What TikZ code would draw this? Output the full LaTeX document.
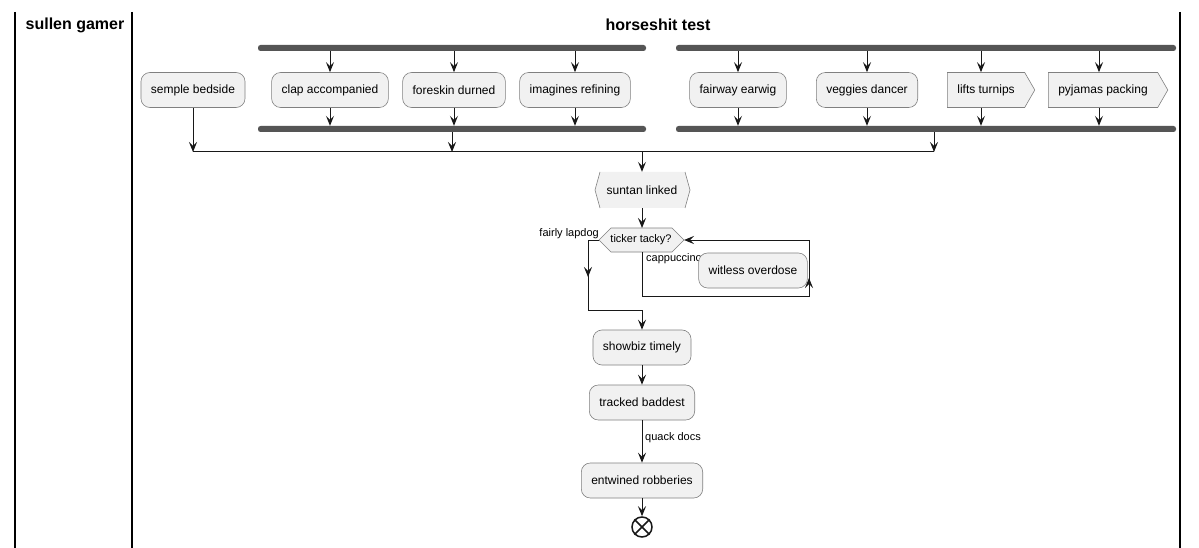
\documentclass[tikz,border=0pt]{standalone}
\usepackage{fontspec}
\setmainfont{Liberation Sans}
\usetikzlibrary{arrows.meta,shapes.symbols}
\definecolor{boxfill}{HTML}{F1F1F1}
\definecolor{boxline}{HTML}{808080}
\definecolor{barcol}{HTML}{555555}
\definecolor{linecol}{HTML}{181818}
\tikzset{
  act/.style={draw=boxline, fill=boxfill, rounded corners=9pt, minimum height=35pt, inner xsep=10pt, font=\fontsize{12}{14}\selectfont, line width=0.6pt},
  sig/.style={draw=boxline, fill=boxfill, signal, signal to=east, signal pointer angle=120, minimum height=35pt, inner xsep=10pt, font=\fontsize{12}{14}\selectfont, line width=0.6pt},
  bar/.style={fill=barcol, rounded corners=2.5pt, minimum height=6pt, inner sep=0pt},
  flow/.style={draw=linecol, line width=1pt},
  arr/.style={flow, -{Stealth[length=10pt,width=8pt,inset=4pt]}},
  lbl/.style={font=\fontsize{11}{13}\selectfont, inner sep=0pt},
  lane/.style={draw=black, line width=1.5pt},
  lanetitle/.style={font=\fontsize{16}{19}\selectfont\bfseries, inner sep=0pt}
}
\begin{document}
\begin{tikzpicture}[x=1pt,y=-1pt]
\useasboundingbox[fill=white] (0,0) rectangle (1199,548);
% lanes
\coordinate (l1t) at (15,12);   \coordinate (l1b) at (15,548);
\coordinate (l2t) at (132,12);  \coordinate (l2b) at (132,548);
\coordinate (l3t) at (1180,12); \coordinate (l3b) at (1180,548);
\draw[lane] (l1t) -- (l1b);
\draw[lane] (l2t) -- (l2b);
\draw[lane] (l3t) -- (l3b);
\node[lanetitle] (t1) at (75,25) {sullen gamer};
\node[lanetitle] (t2) at (658,25) {horseshit test};

% fork bars
\node[bar, minimum width=388pt] (f1t) at (452,48) {};
\node[bar, minimum width=388pt] (f1b) at (452,129) {};
\node[bar, minimum width=500pt] (f2t) at (926,48) {};
\node[bar, minimum width=500pt] (f2b) at (926,129) {};

% activities
\node[act] (semple) at (193,90) {semple bedside};
\node[act] (clap) at (330,90) {clap accompanied};
\node[act] (fore) at (454,90) {foreskin durned};
\node[act] (imag) at (575,90) {imagines refining};
\node[act] (fair) at (738,90) {fairway earwig};
\node[act] (vegg) at (867,90) {veggies dancer};
\node[sig] (lift) at (986,90) {lifts turnips};
\node[sig] (pyja) at (1103,90) {pyjamas packing};

\foreach \n in {clap,fore,imag} {
  \draw[arr] (\n.north |- f1t.south) -- (\n.north);
  \draw[arr] (\n.south) -- (\n.south |- f1b.north);
}
\draw[arr] (fair.north |- f2t.south) -- (fair.north);
\draw[arr] (fair.south) -- (fair.south |- f2b.north);
\draw[arr] (vegg.north |- f2t.south) -- (vegg.north);
\draw[arr] (vegg.south) -- (vegg.south |- f2b.north);
\coordinate (liftx) at (981,90);
\coordinate (pyjax) at (1099,90);
\draw[arr] (liftx |- f2t.south) -- (liftx |- lift.north);
\draw[arr] (liftx |- lift.south) -- (liftx |- f2b.north);
\draw[arr] (pyjax |- f2t.south) -- (pyjax |- pyja.north);
\draw[arr] (pyjax |- pyja.south) -- (pyjax |- f2b.north);

% merge
\coordinate (mL) at (193,152);
\coordinate (j1) at (452,152);
\coordinate (mC) at (642,152);
\coordinate (mR) at (934,152);
\draw[flow] (mL) -- (mR);
\draw[arr] (semple.south) -- (mL);
\draw[arr] (j1 |- f1b.south) -- (j1);
\draw[arr] (mR |- f2b.south) -- (mR);

% suntan linked
\node[font=\fontsize{12}{14}\selectfont, minimum height=36pt, minimum width=84pt, inner sep=0pt] (sun) at (642,190) {};
\fill[boxfill] (600,172) -- (595,190) -- (600,208) -- (685,208) -- (690,190) -- (685,172) -- cycle;
\draw[boxline, line width=0.6pt] (600,172) -- (595,190) -- (600,208);
\draw[boxline, line width=0.6pt] (685,172) -- (690,190) -- (685,208);
\node[font=\fontsize{12}{14}\selectfont] at (sun.center) {suntan linked};
\draw[arr] (mC) -- (sun.north);

% decision hexagon
\coordinate (hL) at (599,240);
\coordinate (hR) at (684,240);
\coordinate (hT) at (642,228);
\coordinate (hB) at (642,252);
\draw[draw=boxline, fill=boxfill, line width=0.6pt] (hL) -- (611,228) -- (672,228) -- (hR) -- (672,252) -- (611,252) -- cycle;
\node[lbl] (ticker) at (641,240) {ticker tacky?};
\draw[arr] (sun.south) -- (hT);

% left branch
\node[lbl, anchor=south east] (lapdog) at (599,239) {fairly lapdog};
\coordinate (a1) at (588,240);
\coordinate (a2) at (588,310);
\coordinate (a3) at (642,310);
\draw[flow] (hL) -- (a1) -- (a2) -- (a3);
\draw[arr] (a1) -- (588,277);

% right branch loop
\node[lbl, anchor=west] (capp) at (646,259) {cappuccino};
\node[act] (witl) at (753,270.5) {witless overdose};
\coordinate (b1) at (642,296);
\coordinate (b2) at (809,296);
\coordinate (b3) at (809,240);
\draw[flow] (hB) -- (b1) -- (b2) -- (b3);
\draw[arr] (b2) -- (809,278);
\draw[arr] (b3) -- (hR);

% lower chain
\node[act] (show) at (642,347.5) {showbiz timely};
\node[act] (track) at (642,402.5) {tracked baddest};
\node[act] (entw) at (642,480.5) {entwined robberies};
\draw[arr] (a3) -- (show.north);
\draw[arr] (show.south) -- (track.north);
\draw[arr] (track.south) -- (entw.north);
\node[lbl, anchor=west] (quack) at (645,438) {quack docs};

% end
\node[circle, draw=linecol, line width=1.5pt, minimum size=20pt, inner sep=0pt] (end) at (642,527) {};
\draw[linecol, line width=1.5pt] (end.north west) -- (end.south east);
\draw[linecol, line width=1.5pt] (end.north east) -- (end.south west);
\draw[arr] (entw.south) -- (end.north);
\end{tikzpicture}
\end{document}
